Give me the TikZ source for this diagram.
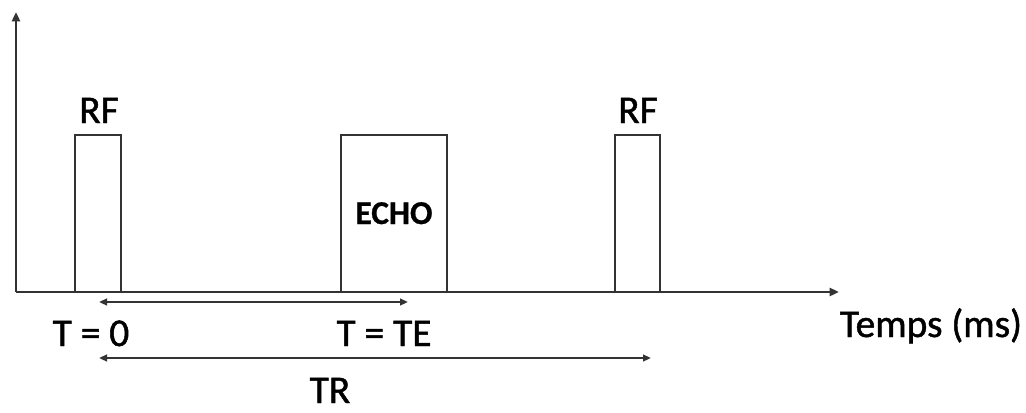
\documentclass[tikz,border=0pt]{standalone}
\usepackage{fontspec}
\setmainfont{Carlito}
\newfontfamily\labfont[FakeBold=1.2]{Carlito}
\newfontfamily\echofont[FakeBold=0.8]{Carlito Bold}
\usetikzlibrary{arrows.meta}
\definecolor{linegray}{HTML}{333333}
\begin{document}
\begin{tikzpicture}[x=0.75pt,y=-0.75pt,
  line/.style={draw=linegray,line width=1.7pt},
  pulse/.style={line},
  axisarrow/.style={line,-{Triangle[length=7pt,width=6pt]}},
  dimarrow/.style={line,line width=2pt,{Triangle[length=6pt,width=5pt]}-{Triangle[length=6pt,width=5pt]}},
  lab/.style={inner sep=0pt,anchor=base,text=black,font=\labfont\fontsize{29.5}{32}\selectfont},
  echolab/.style={inner sep=0pt,anchor=base,text=black,font=\echofont\fontsize{25}{27}\selectfont}]
\useasboundingbox (0,0) rectangle (1026,412);
% axes
\coordinate (origin) at (16,292);
\coordinate (ytip) at (16,12);
\coordinate (xtip) at (839,292);
\draw[axisarrow] (origin) -- (ytip);
\draw[axisarrow] (origin) -- (xtip);
% pulses
\coordinate (rf1a) at (75,292); \coordinate (rf1b) at (121,135);
\coordinate (echoa) at (341,292); \coordinate (echob) at (447,135);
\coordinate (rf2a) at (615,292); \coordinate (rf2b) at (660,135);
\draw[pulse] (rf1a) |- (rf1b) -- (rf1b |- rf1a);
\draw[pulse] (echoa) |- (echob) -- (echob |- echoa);
\draw[pulse] (rf2a) |- (rf2b) -- (rf2b |- rf2a);
% labels
\node[lab] (rf1) at (99,123) {RF};
\node[lab] (rf2) at (638,123) {RF};
\node[echolab] (echo) at (394,224) {ECHO};
\node[lab] (t0) at (91,346) {T = 0};
\node[lab] (tte) at (384,346) {T = TE};
\node[lab] (tr) at (330,403) {TR};
\node[lab] (temps) at (931,337) {Temps (ms)};
% dimension arrows
\coordinate (te1) at (99,302); \coordinate (te2) at (408,302);
\coordinate (tr1) at (99,358); \coordinate (tr2) at (651,358);
\draw[dimarrow] (te1) -- (te2);
\draw[dimarrow] (tr1) -- (tr2);
\end{tikzpicture}
\end{document}
